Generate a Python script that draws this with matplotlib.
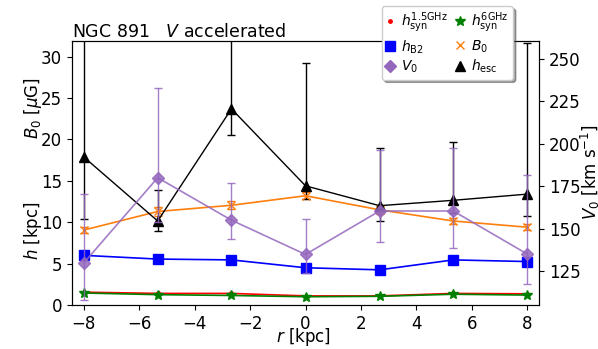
import matplotlib
matplotlib.use("Agg")
import matplotlib.pyplot as plt
from matplotlib.lines import Line2D

# ---- data ----
r = [-8.0, -5.33, -2.67, 0.0, 2.67, 5.33, 8.0]
h_syn_15 = [1.55, 1.4, 1.4, 1.1, 1.1, 1.4, 1.35]
h_syn_6 = [1.45, 1.25, 1.15, 1.0, 1.05, 1.3, 1.2]
h_B2 = [6.0, 5.55, 5.45, 4.5, 4.25, 5.45, 5.25]
B0 = [9.05, 11.3, 12.05, 13.2, 11.5, 10.15, 9.4]
B0_err = [0.4, 0.5, 0.5, 0.45, 0.45, 0.4, 0.35]
h_esc = [17.9, 10.15, 23.7, 14.4, 12.0, 12.65, 13.4]
h_esc_lo = [7.5, 1.2, 3.2, 1.6, 1.9, 1.5, 2.7]
h_esc_hi = [16.0, 3.7, 12.0, 14.8, 7.0, 7.0, 18.3]
V0 = [129.7, 180.0, 155.0, 134.8, 160.4, 160.4, 135.0]
V0_lo = [22.0, 26.0, 11.0, 11.0, 18.0, 22.0, 17.7]
V0_hi = [41.0, 53.0, 22.0, 21.0, 36.0, 37.0, 46.6]

title = "NGC 891   $V$ accelerated"

fig = plt.figure(figsize=(5.98, 3.49), dpi=100)
ax = fig.add_axes([72/598, 1-305/349, (539-72)/598, (305-41)/349])
ax2 = ax.twinx()

fs = 12
tfs = 12
ax.plot(r, h_syn_15, color="red", marker=".", ms=5, lw=1.2, zorder=3)
ax.plot(r, h_syn_6, color="green", marker="*", ms=7, lw=1.2, zorder=3)
ax.plot(r, h_B2, color="blue", marker="s", ms=6.5, lw=1.2, zorder=3)
ax.errorbar(r, B0, yerr=B0_err, color="C1", marker="x", ms=6, lw=1.2,
            capsize=3, elinewidth=1, zorder=3)
ax.errorbar(r, h_esc, yerr=[h_esc_lo, h_esc_hi], color="black", marker="^",
            ms=6.5, lw=1.0, capsize=3, elinewidth=1, zorder=3)
ax2.errorbar(r, V0, yerr=[V0_lo, V0_hi], color="C4", marker="D", ms=6.5,
             lw=1.2, capsize=3, elinewidth=1, alpha=0.85, zorder=3)

ax.set_xlim(-8.42, 8.42)
ax.set_ylim(0, 31.9)
ax2.set_ylim(105, 260.6)
ax.set_xticks([-8, -6, -4, -2, 0, 2, 4, 6, 8])
ax.set_yticks([0, 5, 10, 15, 20, 25, 30])
ax2.set_yticks([125, 150, 175, 200, 225, 250])
ax.tick_params(labelsize=tfs)
ax2.tick_params(labelsize=tfs)

ax.set_title(title, loc="left", fontsize=fs + 0.5, pad=3)
fig.text(304/598, 1-337/349, "$r$ [kpc]", fontsize=fs, ha="center", va="center")
fig.text(33/598, 1-108/349, "$B_0$ [$\\mu$G]", rotation=90, fontsize=fs,
         ha="center", va="center")
fig.text(33/598, 1-231/349, "$h$ [kpc]", rotation=90, fontsize=fs,
         ha="center", va="center")
fig.text(590/598, 1-172/349, "$V_0$ [km s$^{-1}$]", rotation=90, fontsize=fs,
         ha="center", va="center")

handles = [
    Line2D([], [], color="red", marker=".", ls="none", ms=5),
    Line2D([], [], color="blue", marker="s", ls="none", ms=6.5),
    Line2D([], [], color="C4", marker="D", ls="none", ms=6.5),
    Line2D([], [], color="green", marker="*", ls="none", ms=7),
    Line2D([], [], color="C1", marker="x", ls="none", ms=6),
    Line2D([], [], color="black", marker="^", ls="none", ms=6.5),
]
labels = ["$h_{\\rm syn}^{\\rm 1.5GHz}$", "$h_{\\rm B2}$", "$V_0$",
          "$h_{\\rm syn}^{\\rm 6GHz}$", "$B_0$", "$h_{\\rm esc}$"]
leg = ax2.legend(handles, labels, ncol=2, fontsize=10, loc="upper right",
                 bbox_to_anchor=(513/598, 1-6/349), bbox_transform=fig.transFigure,
                 borderaxespad=0, shadow=True, handlelength=0.6,
                 handletextpad=0.5, columnspacing=0.6, labelspacing=0.25,
                 borderpad=0.3, framealpha=1)

fig.savefig("out.png", dpi=100)
